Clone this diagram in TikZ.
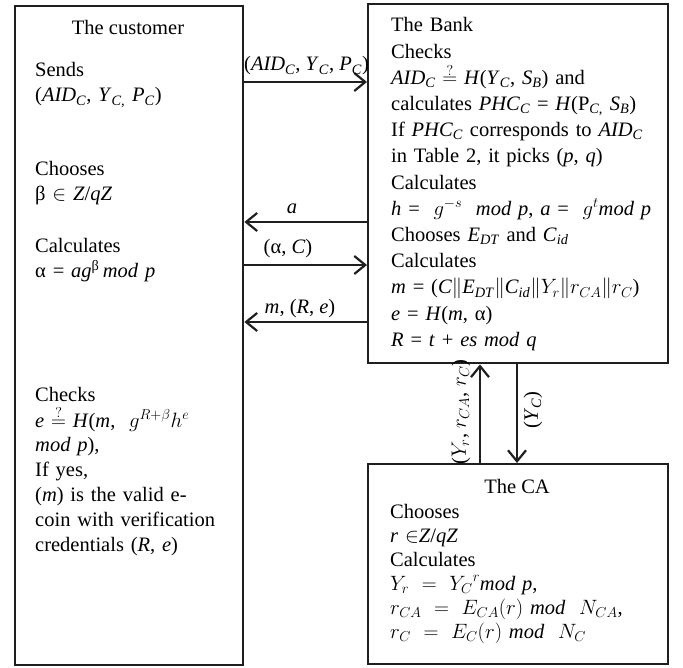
\documentclass[tikz,border=0pt]{standalone}
\usepackage{fontspec}
\setmainfont{Liberation Serif}
\usetikzlibrary{arrows.meta}
\newcommand\myv[1]{\textit{#1}}
\newcommand\mys[2]{\textit{#1}\textsubscript{\textit{#2}}}
\newcommand\qeq{\ensuremath{\stackrel{?}{=}}}
\lineskiplimit=-100pt
\begin{document}
\begin{tikzpicture}[x=1pt,y=-1pt,
 box/.style={draw=black!88, line width=2.4pt, inner sep=0pt, anchor=north west},
 txt/.style={inner sep=0pt, anchor=base west, align=left, font=\fontsize{20.5}{25}\selectfont},
 lbl/.style={inner sep=0pt, anchor=base, font=\fontsize{20.5}{25}\selectfont},
 conn/.style={draw=black!88, line width=2.2pt, -{Straight Barb[length=11pt,width=18pt,line width=2.2pt]}}
]
\useasboundingbox (0,0) rectangle (683,668);
% boxes
\node[box, minimum width=228pt, minimum height=659pt] (cust) at (14,5) {};
\node[box, minimum width=300pt, minimum height=359pt] (bank) at (367,3) {};
\node[box, minimum width=300pt, minimum height=200pt] (ca) at (367,463) {};
% customer texts
\node[lbl] (ctitle) at (128,35) {The customer};
\node[txt, text width=200pt] (csend) at (35,77) {Sends\\(\mys{AID}{C}, \mys{Y}{C,} \mys{P}{C})};
\node[txt, text width=200pt] (cchoose) at (35,176) {Chooses\\β $\in$ \myv{Z}/\myv{qZ}};
\node[txt, text width=200pt] (ccalc) at (35,253) {Calculates\\α = \myv{ag}\textsuperscript{β}\,\myv{mod p}};
\node[txt, text width=200pt] (ccheck) at (35,402) {Checks\\
\myv{e} \qeq\ \myv{H}(\myv{m},\ \ $g^{R+\beta}h^e$\\
\myv{mod p}),\\
If yes,\\
\makebox[187pt][s]{(\myv{m}) is the valid e-}\\
coin with verification\\
credentials (\myv{R}, \myv{e})};
% bank texts
\node[txt, text width=275pt, font=\fontsize{20.5}{26.2}\selectfont] (btext) at (391,32) {The Bank\\
Checks\\
\mys{AID}{C} \qeq\ \myv{H}(\mys{Y}{C}, \mys{S}{B}) and\\
calculates \mys{PHC}{C} = \myv{H}(P\textsubscript{\textit{C},} \mys{S}{B})\\
If \mys{PHC}{C} corresponds to \mys{AID}{C}\\
in Table 2, it picks (\myv{p}, \myv{q})\\
Calculates\\
\myv{h} = \ $g^{-s}$ \ \myv{mod p}, \myv{a} = \ $g^{t}$\myv{mod p}\\
Chooses \mys{E}{DT} and \mys{C}{id}\\
Calculates\\
\myv{m} = (\myv{C}$\|$\mys{E}{DT}$\|$\mys{C}{id}$\|$$Y_r$$\|$$r_{CA}$$\|$$r_C$)\\
\myv{e} = \myv{H}(\myv{m}, α)\\
\myv{R} = \myv{t} + \myv{es mod q}};
% CA texts
\node[lbl] (catitle) at (517,493) {The CA};
\node[txt, text width=275pt, font=\fontsize{20.5}{24}\selectfont] (catext) at (390,518) {Chooses\\
\myv{r} $\in$\myv{Z}/\myv{qZ}\\
Calculates\\
$Y_r\ =\ {Y_C}^r$\myv{mod p},\\
$r_{CA}\ =\ E_{CA}(r)$ \myv{mod} \ $N_{CA}$,\\
$r_C\ =\ E_C(r)$ \myv{mod} \ $N_C$};
% connectors
\draw[conn] (cust.east |- 0,82) -- (bank.west |- 0,82);
\draw[conn] (bank.west |- 0,222) -- (cust.east |- 0,222);
\draw[conn] (cust.east |- 0,265) -- (bank.west |- 0,265);
\draw[conn] (bank.west |- 0,322) -- (cust.east |- 0,322);
\draw[conn] (ca.north -| 480,0) -- (bank.south -| 480,0);
\draw[conn] (bank.south -| 517,0) -- (ca.north -| 517,0);
% connector labels
\node[inner sep=0pt, anchor=base west, font=\fontsize{20.5}{25}\selectfont] (l1) at (244,71) {(\mys{AID}{C}, \mys{Y}{C}, \mys{P}{C})};
\node[lbl] (l2) at (292,214) {\myv{a}};
\node[lbl] (l3) at (288,254) {(α, \myv{C})};
\node[lbl] (l4) at (300,314) {\myv{m}, (\myv{R}, \myv{e})};
\node[inner sep=0pt, rotate=90, font=\fontsize{20.5}{25}\selectfont] (l5) at (461,412) {($Y_r$, $r_{CA}$, $r_C$)};
\node[inner sep=0pt, rotate=90, font=\fontsize{20.5}{25}\selectfont] (l6) at (533,410) {(\mys{Y}{C})};
\end{tikzpicture}
\end{document}
